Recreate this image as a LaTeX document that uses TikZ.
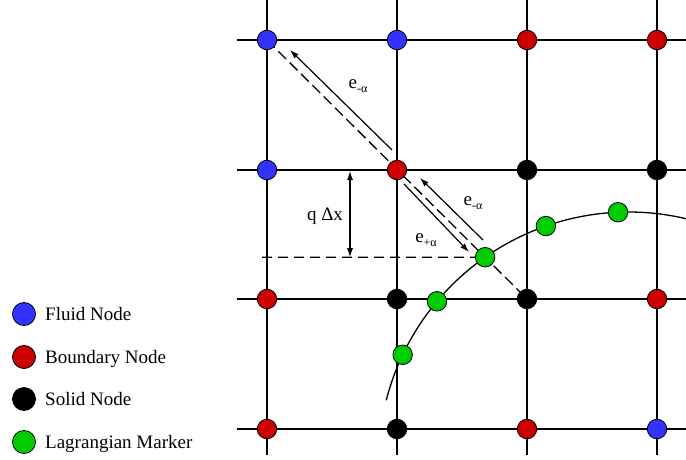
\documentclass[tikz,border=0pt]{standalone}
\usepackage{fontspec}
\setmainfont{Liberation Serif}
\usetikzlibrary{arrows.meta}
\definecolor{fluidblue}{RGB}{51,51,255}
\definecolor{bndred}{RGB}{204,0,0}
\definecolor{lagreen}{RGB}{0,204,0}
\newcommand{\esub}[1]{e\raisebox{-0.45ex}{\fontsize{12}{12}\selectfont #1}}
\begin{document}
\begin{tikzpicture}[x=1pt,y=-1pt,
  gridline/.style={line width=1.5pt},
  dot/.style={circle,draw=black,line width=0.8pt,minimum size=19.5pt,inner sep=0pt},
  fluid/.style={dot,fill=fluidblue},
  bnd/.style={dot,fill=bndred},
  solid/.style={dot,fill=black},
  marker/.style={dot,fill=lagreen},
  legdot/.style={circle,draw=black,line width=0.8pt,minimum size=23pt,inner sep=0pt},
  legtext/.style={anchor=base west,font=\fontsize{19}{22}\selectfont,inner sep=0pt},
  lbl/.style={font=\fontsize{19}{22}\selectfont,inner sep=0pt},
  dash1/.style={line width=1.3pt,dash pattern=on 11pt off 5pt},
  vec/.style={line width=1.2pt,-{Latex[length=9pt,width=6pt]}},
]
\useasboundingbox (0,0) rectangle (686,460);
% grid lines
\foreach \x in {267,397,527,657} \draw[gridline] (\x,0) -- (\x,455);
\foreach \y in {40,170,299,429} \draw[gridline] (237,\y) -- (686,\y);
% boundary curve
\draw[line width=1.3pt] plot[domain=-165.7:-76.7,samples=80,smooth] ({628.5+250*cos(\x)},{462+250*sin(\x)});
% grid node coordinates
\coordinate (p11) at (267,40);
\coordinate (p33) at (527,299);
\coordinate (m3) at ({628.5+250*cos(-125)},{462+250*sin(-125)});
\coordinate (hstart) at (262,257.2);
% dashed lines
\draw[dash1] (p11) -- (p33);
\draw[dash1,dash pattern=on 10pt off 6pt] (hstart) -- (m3);
% nodes row 1
\node[fluid] (n11) at (267,40) {};
\node[fluid] (n12) at (397,40) {};
\node[bnd] (n13) at (527,40) {};
\node[bnd] (n14) at (657,40) {};
% row 2
\node[fluid] (n21) at (267,170) {};
\node[bnd] (n22) at (397,170) {};
\node[solid] (n23) at (527,170) {};
\node[solid] (n24) at (657,170) {};
% row 3
\node[bnd] (n31) at (267,299) {};
\node[solid] (n32) at (397,299) {};
\node[solid] (n33) at (527,299) {};
\node[bnd] (n34) at (657,299) {};
% row 4
\node[bnd] (n41) at (267,429) {};
\node[solid] (n42) at (397,429) {};
\node[bnd] (n43) at (527,429) {};
\node[fluid] (n44) at (657,429) {};
% Lagrangian markers
\foreach \a/\n in {-154.6/1,-140/2,-125/3,-109.3/4,-92.4/5}
  \node[marker] (mk\n) at ({628.5+250*cos(\a)},{462+250*sin(\a)}) {};
% velocity arrows
\coordinate (a1s) at (392,150); \coordinate (a1e) at (290,50);
\coordinate (a2s) at (483,240); \coordinate (a2e) at (420,178);
\coordinate (a3s) at (404,184); \coordinate (a3e) at (469,252);
\draw[vec] (a1s) -- (a1e);
\draw[vec] (a2s) -- (a2e);
\draw[vec] (a3s) -- (a3e);
\node[lbl] (l1) at (358,86) {\esub{-α}};
\node[lbl] (l2) at (473,203) {\esub{-α}};
\node[lbl] (l3) at (426,240) {\esub{+α}};
% q dx
\coordinate (qtop) at (350,171);
\coordinate (qbot) at (350,257.2);
\draw[line width=1.2pt,{Latex[length=9pt,width=6pt]}-{Latex[length=9pt,width=6pt]}] (qtop) -- (qbot);
\node[lbl] (qlbl) at (325,216) {q Δx};
% legend
\node[legdot,fill=fluidblue] (lg1) at (24,314) {};
\node[legdot,fill=bndred] (lg2) at (24,357) {};
\node[legdot,fill=black] (lg3) at (24,399) {};
\node[legdot,fill=lagreen] (lg4) at (24,442) {};
\node[legtext] (t1) at (45,320.5) {Fluid Node};
\node[legtext] (t2) at (45,363.5) {Boundary Node};
\node[legtext] (t3) at (45,405.5) {Solid Node};
\node[legtext] (t4) at (45,448.5) {Lagrangian Marker};
\end{tikzpicture}
\end{document}
